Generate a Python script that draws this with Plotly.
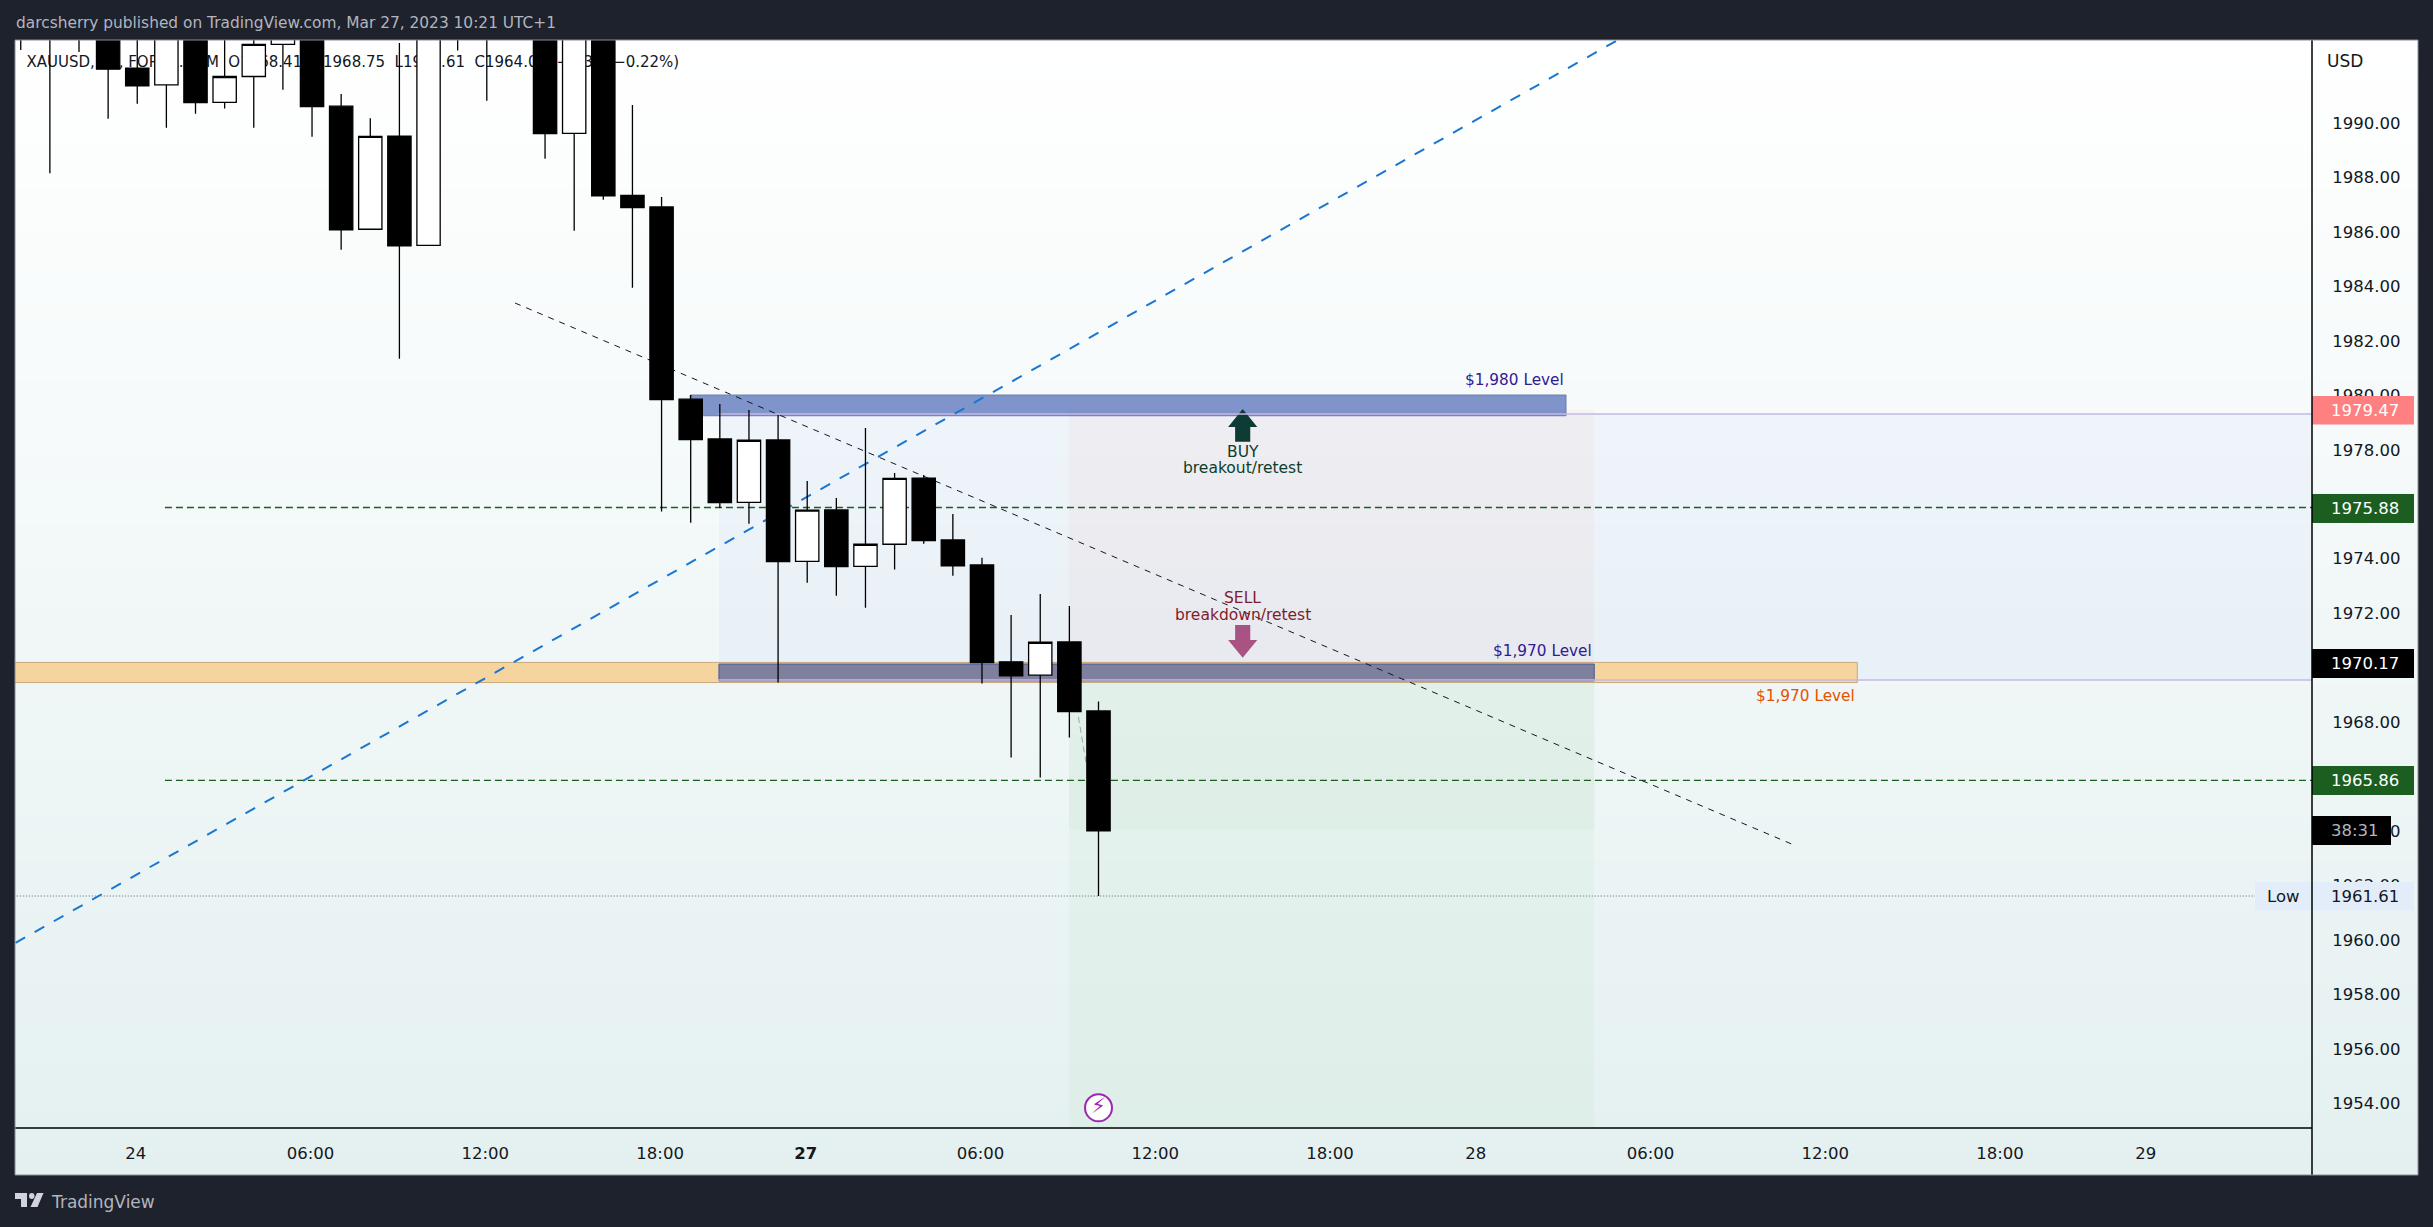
import plotly.graph_objects as go

W, H = 2433, 1227

# ---------- data ----------
bar_index = list(range(-4, 34))
open_ = [1996.0, 1995.0, 1994.5, 1994.5, 1992.02, 1991.40, 1994.0, 1990.76, 1991.71, 1992.89, 1994.0, 1990.62, 1986.10, 1989.52, 1985.51, 1995.5, 1995.0, 1996.0, 1995.0, 1989.62, 1995.0, 1987.34, 1986.92, 1979.86, 1978.40, 1976.07, 1978.36, 1973.90, 1975.79, 1973.72, 1974.53, 1976.96, 1974.69, 1973.77, 1970.21, 1969.72, 1970.94, 1968.41]
high = [1997.0, 1996.0, 1996.0, 1995.0, 1994.0, 1995.0, 1995.0, 1994.0, 1993.3, 1994.5, 1994.5, 1991.07, 1990.18, 1992.94, 1995.0, 1996.0, 1996.0, 1996.5, 1996.0, 1996.0, 1996.0, 1990.66, 1987.28, 1980.01, 1979.68, 1979.46, 1979.28, 1976.85, 1976.23, 1978.80, 1977.15, 1977.07, 1975.64, 1974.03, 1971.93, 1972.70, 1972.26, 1968.75]
low = [1992.68, 1988.16, 1992.61, 1990.16, 1990.71, 1989.83, 1990.34, 1990.53, 1989.83, 1991.22, 1989.50, 1985.35, 1986.10, 1981.34, 1985.51, 1992.66, 1990.82, 1994.0, 1988.69, 1986.04, 1987.18, 1983.95, 1975.73, 1975.32, 1975.86, 1975.28, 1969.45, 1973.12, 1972.64, 1972.20, 1973.60, 1974.55, 1973.37, 1969.42, 1966.70, 1965.96, 1967.43, 1961.61]
close = [1995.0, 1994.5, 1994.0, 1991.98, 1991.37, 1994.0, 1990.75, 1991.71, 1992.89, 1994.0, 1990.60, 1986.08, 1989.51, 1985.49, 1994.0, 1994.5, 1994.6, 1995.5, 1989.61, 1995.0, 1987.33, 1986.89, 1979.84, 1978.37, 1976.06, 1978.35, 1973.89, 1975.78, 1973.71, 1974.53, 1976.95, 1974.66, 1973.74, 1970.18, 1969.70, 1970.93, 1968.38, 1964.00]

price_ticks = [1954, 1956, 1958, 1960, 1962, 1964, 1966, 1968, 1970, 1972, 1974, 1976, 1978, 1980, 1982, 1984, 1986, 1988, 1990]
time_tick_index = [0, 6, 12, 18, 23, 29, 35, 41, 46, 52, 58, 64, 69]
time_tick_text = ["24", "06:00", "12:00", "18:00", "<b>27</b>", "06:00", "12:00", "18:00", "28", "06:00", "12:00", "18:00", "29"]

blue_trend_x = [-4.13, 50.88]
blue_trend_y = [1959.89, 1993.05]
black_trend_x = [13.02, 57.0]
black_trend_y = [1983.39, 1963.45]
grey_arrow_x = [32.36, 32.64]
grey_arrow_y = [1968.19, 1966.39]

level_a = 1975.88
level_b = 1965.86
low_level = 1961.61
tool_top = 1979.31
tool_bottom = 1969.54

X_RANGE = [-4.147, 74.71]
CANDLE_X_RANGE = [-4.197, 74.66]
Y_RANGE = [1953.09, 1993.05]

FONT = "DejaVu Sans"
DARK = "#1e222d"


def fx(px):
    return px / W


def fy(py):
    return 1 - py / H


fig = go.Figure()

# gradient panel background
fig.add_trace(go.Heatmap(x=[0, 1], y=[0, 1], z=[[0, 0], [1, 1]], zsmooth="best", showscale=False,
                         colorscale=[[0, "#e4f0f0"], [1, "#ffffff"]], hoverinfo="skip",
                         xaxis="x", yaxis="y"))

# base layer, behind the candles
fig.add_trace(go.Scatter(x=[X_RANGE[0] - 2, X_RANGE[1] + 2], y=[low_level, low_level], mode="lines",
                         line=dict(color="#5f626c", width=1, dash="1px,2px"), hoverinfo="skip",
                         xaxis="x2", yaxis="y2"))
for lvl in (level_a, level_b):
    fig.add_trace(go.Scatter(x=[1, X_RANGE[1] + 2], y=[lvl, lvl], mode="lines",
                             line=dict(color="#1b5e20", width=1.3, dash="7px,4px"), hoverinfo="skip",
                             xaxis="x2", yaxis="y2"))
for lvl in (tool_top, tool_bottom):
    fig.add_trace(go.Scatter(x=[20, X_RANGE[1] + 2], y=[lvl, lvl], mode="lines",
                             line=dict(color="#c5b9e6", width=1.5), hoverinfo="skip",
                             xaxis="x2", yaxis="y2"))
fig.add_trace(go.Scatter(x=blue_trend_x, y=blue_trend_y, mode="lines",
                         line=dict(color="#1976d2", width=2, dash="11px,11px"), hoverinfo="skip",
                         xaxis="x2", yaxis="y2"))
fig.add_trace(go.Scatter(x=black_trend_x, y=black_trend_y, mode="lines",
                         line=dict(color="#131722", width=1, dash="6px,6px"), hoverinfo="skip",
                         xaxis="x2", yaxis="y2"))
fig.add_trace(go.Scatter(x=grey_arrow_x, y=grey_arrow_y, mode="lines",
                         line=dict(color="#9aa5a5", width=1, dash="6px,4px"), hoverinfo="skip",
                         xaxis="x2", yaxis="y2"))
fig.add_trace(go.Scatter(
    x=[-3.75], y=[1992.2], mode="text", textposition="middle right",
    text=["XAUUSD,\u00a01h,\u00a0FOREX.COM\u00a0\u00a0O1968.41\u00a0\u00a0H1968.75\u00a0\u00a0L1961.61\u00a0\u00a0C1964.05\u00a0\u00a0\u22124.36\u00a0(\u22120.22%)"],
    textfont=dict(family=FONT, size=15, color="#131722"), hoverinfo="skip",
    xaxis="x2", yaxis="y2"))
fig.add_trace(go.Scatter(
    x=[33.05], y=[1953.83], mode="markers+text", text=["\u26a1"], textposition="middle center",
    textfont=dict(family=FONT, size=21, color="#9c27b0"),
    marker=dict(size=27, color="#ffffff", line=dict(color="#9c27b0", width=2)),
    hoverinfo="skip", xaxis="x2", yaxis="y2"))

# candles on an overlay so that everything else stays behind them
fig.add_trace(go.Candlestick(
    x=bar_index, open=open_, high=high, low=low, close=close,
    increasing=dict(line=dict(color="#000000", width=1.3), fillcolor="#ffffff"),
    decreasing=dict(line=dict(color="#000000", width=1.3), fillcolor="#000000"),
    whiskerwidth=0, hoverinfo="skip", xaxis="x3", yaxis="y3"))

shapes = []


def zone(x0, x1, y0, y1, fill, line=None, layer="below"):
    shapes.append(dict(type="rect", xref="x2", yref="y2", x0=x0, x1=x1, y0=y0, y1=y1, layer=layer,
                       fillcolor=fill, line=dict(color=line or "rgba(0,0,0,0)", width=1)))


zone(20.02, X_RANGE[1] + 2, tool_bottom, tool_top, "rgba(41,98,255,0.04)")
zone(32.04, 50.07, 1970.13, 1979.46, "rgba(244,67,54,0.04)")
zone(32.04, 50.07, Y_RANGE[0] - 1, tool_bottom, "rgba(76,175,80,0.045)")
zone(32.04, 50.07, 1964.04, tool_bottom, "rgba(76,175,80,0.03)")
zone(X_RANGE[0] - 2, 59.1, 1969.45, 1970.19, "#f5d49e", "#c9a878")
zone(20.02, 50.07, 1969.51, 1970.13, "rgba(48,70,158,0.6)", "#4a5a9c")
zone(19.03, 49.1, 1979.25, 1980.01, "rgba(48,80,170,0.6)", "#6c7cae")

# block arrows, in the price/time frame
shapes.append(dict(type="path", xref="x2", yref="y2", layer="below", fillcolor="#0e3b33", line=dict(width=0),
                   path="M 38 1979.50 L 38.5 1978.84 L 38.26 1978.84 L 38.26 1978.29 L 37.74 1978.29 L 37.74 1978.84 L 37.5 1978.84 Z"))
shapes.append(dict(type="path", xref="x2", yref="y2", layer="below", fillcolor="#a85383", line=dict(width=0),
                   path="M 38 1970.36 L 38.5 1971.01 L 38.26 1971.01 L 38.26 1971.56 L 37.74 1971.56 L 37.74 1971.01 L 37.5 1971.01 Z"))


def paper_rect(x0, x1, y0, y1, fill):
    shapes.append(dict(type="rect", xref="paper", yref="paper", x0=fx(x0), x1=fx(x1), y0=fy(y1), y1=fy(y0),
                       layer="above", fillcolor=fill, line=dict(width=0)))


# price tags on the scale
paper_rect(2312, 2414, 396, 424.6, "#ff8080")
paper_rect(2312, 2414, 494, 523, "#1b5e20")
paper_rect(2312, 2414, 649, 678, "#000000")
paper_rect(2312, 2414, 766, 795, "#1b5e20")
paper_rect(2312, 2391, 816, 845, "#000000")
paper_rect(2255, 2414, 882, 910.6, "#e3edfa")


def paper_line(x0, y0, x1, y1, color, width=1.5):
    shapes.append(dict(type="line", xref="paper", yref="paper", x0=fx(x0), x1=fx(x1), y0=fy(y0), y1=fy(y1),
                       layer="above", line=dict(color=color, width=width)))


paper_line(2312, 40, 2312, 1175, "#000000")
paper_line(15, 1128, 2312, 1128, "#000000")
shapes.append(dict(type="rect", xref="paper", yref="paper", x0=fx(15), x1=fx(2418), y0=fy(1175), y1=fy(40),
                   layer="above", line=dict(color="#8a8e97", width=1), fillcolor="rgba(0,0,0,0)"))


def pts(p):
    return "M " + " L ".join(f"{fx(a):.5f} {fy(b):.5f}" for a, b in p) + " Z"


shapes.append(dict(type="path", xref="paper", yref="paper", layer="above", fillcolor="#d1d4dc", line=dict(width=0),
                   path=pts([(15, 1193), (27, 1193), (27, 1207), (21, 1207), (21, 1199), (15, 1199)])))
shapes.append(dict(type="path", xref="paper", yref="paper", layer="above", fillcolor="#d1d4dc", line=dict(width=0),
                   path=pts([(37, 1193), (43.5, 1193), (37.5, 1207), (30.5, 1207)])))
shapes.append(dict(type="circle", xref="paper", yref="paper", layer="above", fillcolor="#d1d4dc", line=dict(width=0),
                   x0=fx(29), x1=fx(34.5), y0=fy(1199), y1=fy(1193)))

ann = []


def note(text, x, y, color="#131722", size=17, anchor="left", ref="paper"):
    if ref == "paper":
        ann.append(dict(text=text, x=fx(x), y=fy(y), xref="paper", yref="paper", xanchor=anchor, yanchor="middle",
                        showarrow=False, font=dict(family=FONT, size=size, color=color)))
    else:
        ann.append(dict(text=text, x=x, y=y, xref="x2", yref="y2", xanchor=anchor, yanchor="middle",
                        showarrow=False, font=dict(family=FONT, size=size, color=color)))


note("darcsherry published on TradingView.com, Mar 27, 2023 10:21 UTC+1", 14, 23, "#b2b5be", 15.4)
note("TradingView", 48.5, 1202, "#b2b5be", 17)
note("USD", 2325, 61, "#131722", 17)
note("1979.47", 2329, 410, "#ffffff", 16.5)
note("1975.88", 2329, 508.5, "#ffffff", 16.5)
note("1970.17", 2329, 663.5, "#ffffff", 16.5)
note("1965.86", 2329, 780.5, "#ffffff", 16.5)
note("38:31", 2329, 830.5, "#b2b5be", 16.5)
note("Low", 2265, 896.5, "#131722", 16.5)
note("1961.61", 2329, 896.5, "#131722", 16.5)

note("$1,980 Level", 49.1, 1980.56, "#311b92", 15.3, "right", "data")
note("$1,970 Level", 50.07, 1970.61, "#311b92", 15.3, "right", "data")
note("$1,970 Level", 59.1, 1968.96, "#e65100", 15.3, "right", "data")
note("BUY", 38, 1977.93, "#0b3d2e", 15.5, "center", "data")
note("breakout/retest", 38, 1977.34, "#0b3d2e", 15.5, "center", "data")
note("SELL", 38, 1972.56, "#7f1d2d", 15.5, "center", "data")
note("breakdown/retest", 38, 1971.93, "#7f1d2d", 15.5, "center", "data")

dom_x = [fx(15), fx(2312)]
dom_y = [fy(1128), fy(40)]

fig.update_layout(
    width=W, height=H, margin=dict(l=0, r=0, t=0, b=0), autosize=False,
    paper_bgcolor=DARK, plot_bgcolor="rgba(0,0,0,0)", showlegend=False,
    boxgap=0.2, boxgroupgap=0, dragmode=False,
    shapes=shapes, annotations=ann,
    xaxis=dict(domain=[fx(15), fx(2418)], range=[0, 1], visible=False, fixedrange=True),
    yaxis=dict(domain=[fy(1175), fy(40)], range=[0, 1], visible=False, fixedrange=True),
    xaxis2=dict(domain=dom_x, range=X_RANGE, anchor="y2", tickmode="array", tickvals=time_tick_index,
                ticktext=time_tick_text, showgrid=False, zeroline=False, showline=False,
                ticks="outside", ticklen=10, tickcolor="rgba(0,0,0,0)",
                tickfont=dict(family=FONT, size=16.5, color="#131722"), fixedrange=True,
                rangeslider=dict(visible=False)),
    yaxis2=dict(domain=dom_y, range=Y_RANGE, anchor="x2", side="right", tickmode="array", tickvals=price_ticks,
                ticktext=[f"{v}.00" for v in price_ticks], showgrid=False, zeroline=False, showline=False,
                ticks="outside", ticklen=16, tickcolor="rgba(0,0,0,0)",
                tickfont=dict(family=FONT, size=16.5, color="#131722"), fixedrange=True),
    xaxis3=dict(overlaying="x2", anchor="y3", range=CANDLE_X_RANGE, visible=False, fixedrange=True,
                rangeslider=dict(visible=False)),
    yaxis3=dict(overlaying="y2", anchor="x3", range=Y_RANGE, visible=False, fixedrange=True, side="right"),
)

fig.write_html("out.html", config=dict(displayModeBar=False),
               post_script="document.body.style.margin='0';document.body.style.background='#1e222d';")
